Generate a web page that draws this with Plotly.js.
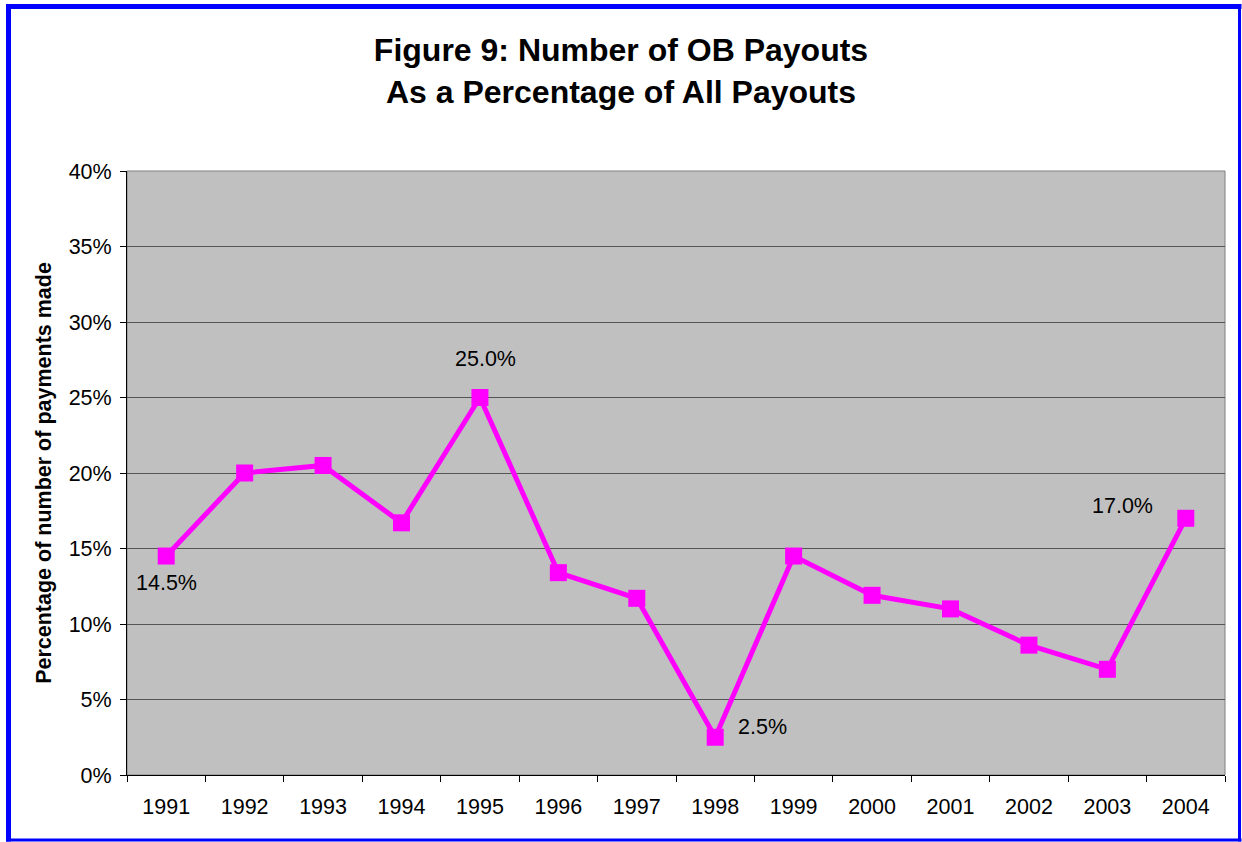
<!DOCTYPE html>
<html>
<head>
<meta charset="utf-8">
<script src="https://cdn.plot.ly/plotly-3.0.1.min.js"></script>
<style>html,body{margin:0;padding:0;background:#fff;}#chart{width:1242px;height:842px;}</style>
</head>
<body>
<div id="chart"></div>
<script>
const years = ['1991','1992','1993','1994','1995','1996','1997','1998','1999','2000','2001','2002','2003','2004'];
const obShare = [0.145, 0.200, 0.205, 0.167, 0.250, 0.134, 0.117, 0.025, 0.145, 0.119, 0.110, 0.086, 0.070, 0.170];
const labelYears = ['1991','1995','1998','2004'];
const labelText = ['14.5%','25.0%','2.5%','17.0%'];
const labelShiftX = [0, 6, 47, -63];
const labelShiftY = [-27, 39, 10, 12];
const yTickVals = [0,0.05,0.10,0.15,0.20,0.25,0.30,0.35,0.40];
const yTickText = ['0%','5%','10%','15%','20%','25%','30%','35%','40%'];

const font = 'Liberation Sans, Arial, sans-serif';

const trace = {
  x: years, y: obShare, type: 'scatter', mode: 'lines+markers',
  line: {color: '#FF00FF', width: 5},
  marker: {symbol: 'square', size: 17, color: '#FF00FF'},
  hoverinfo: 'skip', cliponaxis: false
};

const annotations = labelYears.map((yr, i) => {
  const idx = years.indexOf(yr);
  return {
    x: idx, y: obShare[idx], xref: 'x', yref: 'y',
    text: labelText[i], showarrow: false,
    xshift: labelShiftX[i], yshift: labelShiftY[i],
    font: {family: font, size: 21.5, color: '#000'}
  };
});

// paper coordinate helpers (plot area: x 127..1225, y 171..775)
const px = v => (v - 127) / 1098;
const py = v => (775 - v) / 604;

const shapes = [
  {type:'rect', xref:'paper', yref:'paper', x0:0, x1:1, y0:0, y1:1, line:{color:'#808080', width:1}, layer:'below'},
  {type:'line', xref:'paper', yref:'paper', x0:px(8.5), x1:px(8.5), y0:py(4), y1:py(841.5), line:{color:'#0000FF', width:5}},
  {type:'line', xref:'paper', yref:'paper', x0:px(6), x1:px(1241.5), y0:py(6.5), y1:py(6.5), line:{color:'#0000FF', width:5}},
  {type:'line', xref:'paper', yref:'paper', x0:px(1239.5), x1:px(1239.5), y0:py(4), y1:py(841.5), line:{color:'#0000FF', width:3}},
  {type:'line', xref:'paper', yref:'paper', x0:px(6), x1:px(1241.5), y0:py(840), y1:py(840), line:{color:'#0000FF', width:3}}
];

const layout = {
  width: 1242, height: 842,
  margin: {l: 127, r: 17, t: 171, b: 67},
  paper_bgcolor: '#FFFFFF', plot_bgcolor: '#C0C0C0',
  showlegend: false,
  title: {text: '<b>Figure 9: Number of OB Payouts<br>As a Percentage of All Payouts</b>',
          x: 0.5, xref: 'container', y: 1 - 61/842, yref: 'container', yanchor: 'middle',
          font: {family: font, size: 32, color: '#000'}},
  xaxis: {type: 'category', categoryorder: 'array', categoryarray: years, range: [-0.5, years.length - 0.5],
          tickson: 'boundaries', ticks: 'outside', ticklen: 6, tickcolor: '#000', tickangle: 0,
          showline: true, linecolor: '#000', linewidth: 1, showgrid: false,
          tickfont: {family: font, size: 21.5, color: '#000'}, ticklabelstandoff: 12, fixedrange: true},
  yaxis: {range: [0, 0.4], tickvals: yTickVals, ticktext: yTickText, ticks: 'outside', ticklen: 6, tickcolor: '#000',
          showline: true, linecolor: '#000', linewidth: 1, showgrid: true, gridcolor: '#555555', gridwidth: 1,
          zeroline: false, tickfont: {family: font, size: 21.5, color: '#000'}, ticklabelstandoff: 4,
          title: {text: '<b>Percentage of number of payments made</b>', standoff: 11,
                  font: {family: font, size: 21.5, color: '#000'}}, fixedrange: true},
  annotations: annotations,
  shapes: shapes
};

Plotly.newPlot('chart', [trace], layout, {displayModeBar: false, staticPlot: true});
</script>
</body>
</html>
